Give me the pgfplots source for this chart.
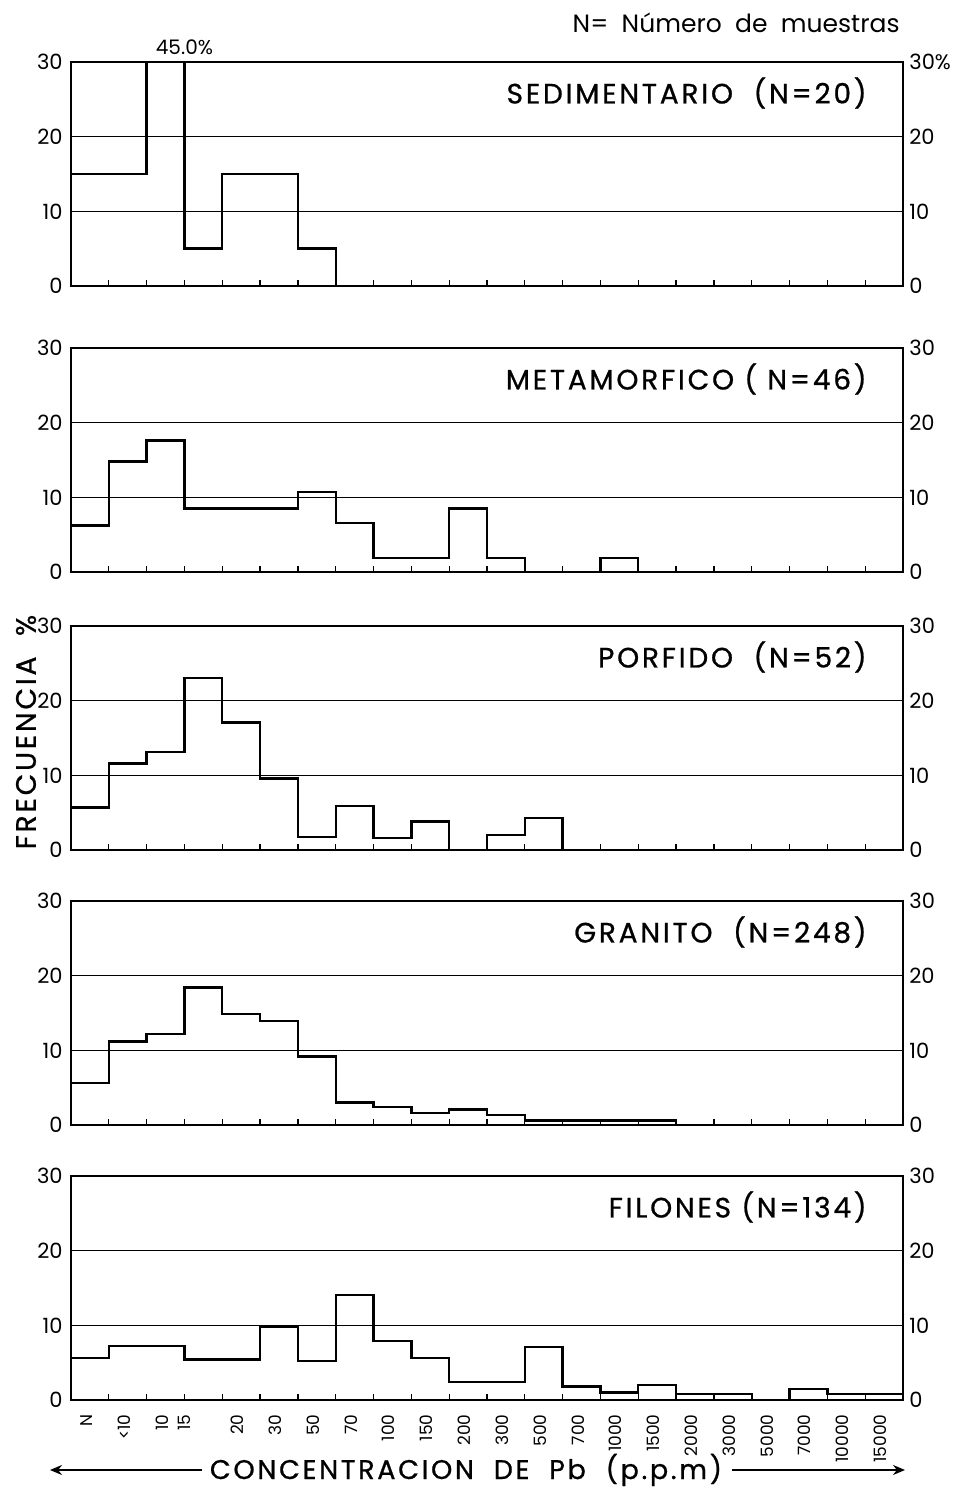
\documentclass[border=0pt]{standalone}
\usepackage{fontspec}
\setmainfont{Poppins}
\newfontfamily\titlefont[LetterSpace=10,FakeBold=0.8]{Poppins}
\usepackage{pgfplots}
\pgfplotsset{compat=1.18}
\usetikzlibrary{arrows.meta}

\pgfplotsset{
  panel/.style={
    scale only axis, width=416pt, height=112pt, anchor=south west,
    xmin=0, xmax=22, ymin=0, ymax=30,
    xtick={1,...,21}, xticklabels={}, xtick pos=bottom,
    tick align=inside, major tick length=3pt,
    ytick={0,10,20,30}, ytick pos=left,
    ytick style={draw=none},
    xtick style={black, line width=0.6pt},
    ymajorgrids, grid style={black, line width=0.65pt},
    axis line style={black, line width=0.9pt},
    /pgf/number format/assume math mode=true,
    yticklabel style={font=\fontsize{10.5}{11}\selectfont, inner sep=0pt, xshift=-4pt},
    clip mode=individual,
  },
  hist/.style={const plot, black, line width=1.2pt, mark=none},
}
\newcommand{\rlab}[1]{%
  \node[anchor=west, inner sep=0pt, font=\fontsize{10.5}{11}\selectfont] at (axis cs:22,30) [xshift=3pt] {#1};
  \node[anchor=west, inner sep=0pt, font=\fontsize{10.5}{11}\selectfont] at (axis cs:22,20) [xshift=3pt] {20};
  \node[anchor=west, inner sep=0pt, font=\fontsize{10.5}{11}\selectfont] at (axis cs:22,10) [xshift=3pt] {10};
  \node[anchor=west, inner sep=0pt, font=\fontsize{10.5}{11}\selectfont] at (axis cs:22,0) [xshift=3pt] {0};
}
\newcommand{\ptitle}[1]{%
  \node[anchor=east, inner sep=0pt, font=\titlefont\fontsize{14}{15}\selectfont] at (rel axis cs:1,1) [xshift=-18pt, yshift=-15.5pt] {#1};
}

\begin{document}
\begin{tikzpicture}
\useasboundingbox (0,0) rectangle (479pt,744.5pt);

% SEDIMENTARIO
\begin{axis}[panel, at={(35.5pt,601.5pt)}]
\addplot[hist] coordinates {(0,0)(0,15)(1,15)(2,45)(3,5)(4,15)(5,15)(6,5)(7,0)};
\node[font=\fontsize{10}{11}\selectfont, inner sep=0pt] at (axis cs:3.0,30) [yshift=7.5pt] {45.0\%};
\rlab{30\%}
\ptitle{SEDIMENTARIO\ \ (N=20)}
\end{axis}

% METAMORFICO
\begin{axis}[panel, at={(35.5pt,458.5pt)}]
\addplot[hist] coordinates {(0,0)(0,6.2)(1,14.8)(2,17.6)(3,8.5)(4,8.5)(5,8.5)(6,10.7)(7,6.6)(8,1.9)(9,1.9)(10,8.5)(11,1.9)(12,0)(13,0)(14,1.9)(15,0)};
\rlab{30}
\ptitle{METAMORFICO ( N=46)}
\end{axis}

% PORFIDO
\begin{axis}[panel, at={(35.5pt,319.5pt)}]
\addplot[hist] coordinates {(0,0)(0,5.7)(1,11.6)(2,13.1)(3,23.0)(4,17.1)(5,9.6)(6,1.7)(7,5.9)(8,1.6)(9,3.8)(10,0)(11,2.0)(12,4.3)(13,0)};
\rlab{30}
\ptitle{PORFIDO\ \ (N=52)}
\end{axis}

% GRANITO
\begin{axis}[panel, at={(35.5pt,182pt)}]
\addplot[hist] coordinates {(0,0)(0,5.6)(1,11.2)(2,12.2)(3,18.4)(4,14.9)(5,13.9)(6,9.2)(7,3.0)(8,2.4)(9,1.6)(10,2.1)(11,1.3)(12,0.6)(13,0.6)(14,0.6)(15,0.6)(16,0)};
\rlab{30}
\ptitle{GRANITO\ \ (N=248)}
\end{axis}

% FILONES
\begin{axis}[panel, at={(35.5pt,44.5pt)},
  extra x ticks={0.4,1.4,2.4,3.0,4.4,5.4,6.4,7.4,8.4,9.4,10.4,11.4,12.4,13.4,14.4,15.4,16.4,17.4,18.4,19.4,20.4,21.4},
  extra x tick labels={N,<10,10,15,20,30,50,70,100,150,200,300,500,700,1000,1500,2000,3000,5000,7000,10000,15000},
  extra x tick style={major tick length=0pt, tick style={draw=none},
    xticklabel style={rotate=90, anchor=east, inner sep=0pt, font=\fontsize{8.5}{9}\selectfont}},
  xticklabel shift=7pt,
]
\addplot[hist] coordinates {(0,0)(0,5.6)(1,7.2)(2,7.2)(3,5.4)(4,5.4)(5,9.8)(6,5.2)(7,14.1)(8,7.9)(9,5.6)(10,2.4)(11,2.4)(12,7.1)(13,1.8)(14,1.0)(15,2.0)(16,0.8)(17,0.8)(18,0)(19,1.5)(20,0.8)(21,0.8)(22,0)};
\rlab{30}
\ptitle{FILONES (N=134)}
\end{axis}

% annotations
\node[anchor=east, inner sep=0pt, font=\fontsize{12.5}{13}\selectfont] at (450pt,733pt) {N=\ \ Número\ \ de\ \ muestras};
\node[rotate=90, inner sep=0pt, font=\titlefont\fontsize{14}{15}\selectfont] at (13pt,378.5pt) {FRECUENCIA\ \ \%};
\node[anchor=base, inner sep=0pt, font=\titlefont\fontsize{13.5}{14}\selectfont] at (233pt,5pt) {CONCENTRACION\ \ DE\ \ Pb\ \ (p.p.m)};
\draw[line width=0.9pt, -{Stealth[length=6pt,width=5pt]}] (101pt,9.5pt) -- (25pt,9.5pt);
\draw[line width=0.9pt, -{Stealth[length=6pt,width=5pt]}] (366pt,9.5pt) -- (452.5pt,9.5pt);
\end{tikzpicture}
\end{document}
